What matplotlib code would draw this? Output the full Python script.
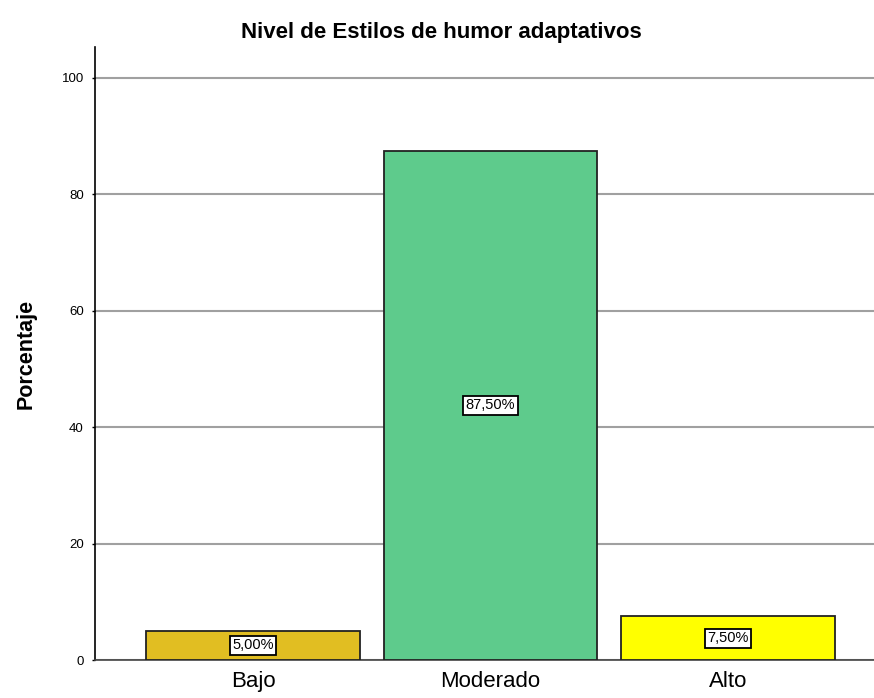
import matplotlib
matplotlib.use("Agg")
from matplotlib import pyplot as plt

niveles = ["Bajo", "Moderado", "Alto"]
porcentajes = [5.0, 87.5, 7.5]
etiquetas = ["5,00%", "87,50%", "7,50%"]
colores = ["#E1BE22", "#5ECB8C", "#FFFF00"]

plt.rcParams["font.family"] = ["Liberation Sans", "DejaVu Sans"]

fig = plt.figure(figsize=(8.74, 6.98), dpi=100)
ax = fig.add_axes([0.1087, 0.0544, 0.8913, 0.8783])

pos = list(range(len(niveles)))
ax.bar(pos, porcentajes, width=0.9, color=colores, edgecolor="#222222", linewidth=1.3, zorder=3)

# etiquetas de porcentaje en el centro de cada barra
for x, v, t in zip(pos, porcentajes, etiquetas):
    ax.text(x, v / 2, t, ha="center", va="center", fontsize=10.5, zorder=4,
            bbox=dict(boxstyle="square,pad=0.18", fc="white", ec="black", lw=1.3))

ax.set_xlim(-0.665, 2.615)
ax.set_ylim(0, 105.3)
ax.set_yticks([0, 20, 40, 60, 80, 100])
ax.yaxis.grid(True, color="#A0A0A0", linewidth=1.5, zorder=0)
ax.set_axisbelow(True)
ax.set_xticks(pos)
ax.set_xticklabels(niveles, fontsize=16)
ax.tick_params(axis="x", length=0, pad=8)
ax.tick_params(axis="y", labelsize=9.5, length=2, width=1, pad=6)

for s in ["top", "right"]:
    ax.spines[s].set_visible(False)
ax.spines["left"].set_linewidth(1.2)
ax.spines["bottom"].set_linewidth(1.2)
ax.spines["bottom"].set_color("#444444")

ax.set_ylabel("Porcentaje", fontsize=15.5, fontweight="bold", labelpad=18)
fig.suptitle("Nivel de Estilos de humor adaptativos", fontsize=16, fontweight="bold",
             x=0.505, y=0.968)

fig.savefig("out.png", dpi=100)
